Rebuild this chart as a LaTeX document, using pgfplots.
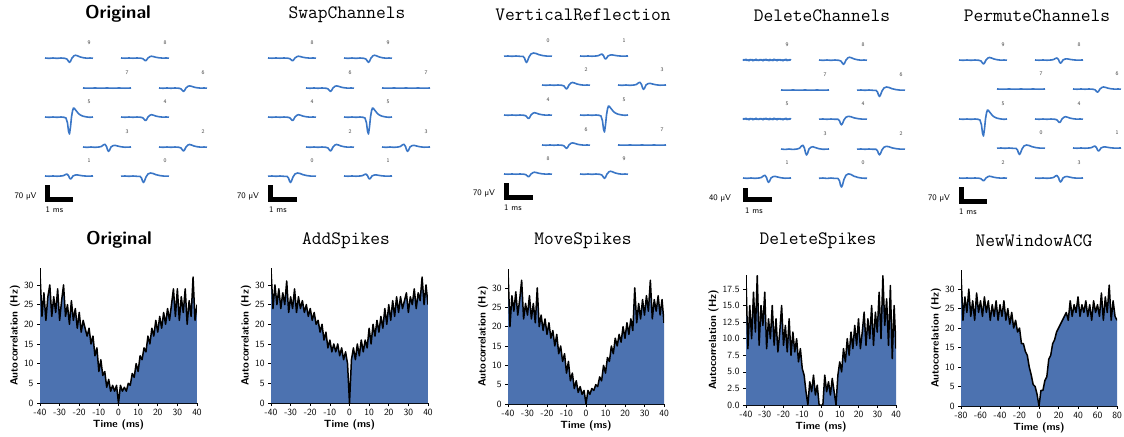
\documentclass[border=0pt]{standalone}
\usepackage{fontspec}
\usepackage{pgfplots}
\pgfplotsset{compat=1.18}
\usepackage{pgfplotstable}
\definecolor{acg}{HTML}{4C72B0}
\definecolor{wvc}{HTML}{3A76C6}
\tikzset{chl/.style={font=\fontsize{5.5}{6}\selectfont\sffamily, text=black!75},
  sbl/.style={font=\fontsize{8.5}{9}\selectfont\sffamily}}

% ---------- waveform templates (x in px, y in px, positive = down) ----------
\pgfplotstableread{
x y
0 0
4 0.3
8 0
12 0.3
16 0
19 0.3
21 1
22.5 6
23.5 14
24.5 17
25.5 10
26.5 0
27.5 -6
28.5 -9
29.5 -8.5
31 -6.5
33 -4
35 -2.2
38 -0.8
42 0
45 0.3
48 0
}\Tbig
\pgfplotstableread{
x y
0 0.2
4 0
8 0.3
12 0
16 0.3
19 0.3
20.5 2
21.5 5
22.5 6.5
23.5 5
25 1
27 -2
29.5 -3
32 -2.5
35 -1.3
39 -0.4
43 0.1
48 0.2
}\Tmed
\pgfplotstableread{
x y
0 0
4 0.3
8 0
12 0.3
16 0
20 0.3
22 1
23.5 3
24.5 4
25.5 3
27 0
29 -2
30.5 -2.5
32.5 -2
35 -1
38 -0.3
42 0.2
45 0
48 0.2
}\Tsmall
\pgfplotstableread{
x y
0 0
4 0.3
8 0
12 0.3
16 0
18.5 -0.5
20.5 -2
22 -2.5
23.5 -0.5
24.5 2.5
25.5 4
26.5 3
28 0
30 -1.2
32 -1.5
35 -0.8
38 -0.2
42 0.2
48 0
}\Tbump
\pgfplotstableread{
x y
0 0
6 0.2
12 0
18 0.2
24 0
30 0.2
36 0
42 0.2
48 0
}\Tflat
\pgfplotstableread{
x y
0 0.6
1 -0.5
2 0.3
3 -0.7
4 0.5
5 -0.2
6 0.8
7 -0.6
8 0.1
9 -0.5
10 0.7
11 -0.3
12 0.4
13 -0.8
14 0.5
15 -0.1
16 0.6
17 -0.6
18 0.2
19 -0.4
20 0.8
21 -0.5
22 0.3
23 -0.7
24 0.4
25 -0.2
26 0.7
27 -0.6
28 0.5
29 -0.3
30 0.6
31 -0.8
32 0.2
33 -0.4
34 0.7
35 -0.5
36 0.3
37 -0.6
38 0.5
39 -0.2
40 0.8
41 -0.4
42 0.3
43 -0.7
44 0.6
45 -0.3
46 0.4
47 -0.5
48 0.2
}\Tnoise

% ---------- ACG data ----------
\pgfplotstableread{
t v
-40 33
-39 22
-38 28
-37 21
-36 27
-35 30
-34 22
-33 27
-32 23
-31 29
-30 21
-29 26
-28 30
-27 22
-26 25
-25 20
-24 26
-23 21
-22 24
-21 19
-20 23
-19 18
-18 21
-17 19
-16 17
-15 19
-14 15
-13 17
-12 12
-11 14
-10 8
-9 11
-8 7
-7 8
-6 4
-5 6
-4 3
-3 4.5
-2 3
-1 4.5
0 0
1 4.5
2 3
3 4
4 3
5 5
6 4.5
7 7.5
8 6.5
9 10
10 8
11 12
12 11
13 14
14 13
15 17
16 15
17 19
18 17
19 21
20 18
21 22
22 19
23 23
24 20
25 24
26 21
27 25
28 29
29 22
30 29
31 21
32 27
33 23
34 29
35 20
36 26
37 22
38 32
39 21
40 25
}\Aorig
\pgfplotstableread{
t v
-40 34
-39 24
-38 30
-37 25
-36 29
-35 24
-34 28
-33 25
-32 31
-31 23
-30 27
-29 24
-28 29
-27 23
-26 27
-25 24
-24 26
-23 23
-22 25
-21 22
-20 24
-19 21
-18 23
-17 20
-16 21
-15 18
-14 20
-13 16
-12 18
-11 14
-10 16
-9 13
-8 15
-7 13
-6 15
-5 12
-4 14
-3 11
-2 13
-1 10
0 0
1 11
2 14
3 11
4 15
5 12
6 16
7 13
8 16
9 14
10 19
11 15
12 20
13 17
14 21
15 18
16 22
17 19
18 24
19 20
20 25
21 21
22 26
23 22
24 27
25 23
26 27
27 24
28 26
29 28
30 23
31 27
32 25
33 29
34 24
35 28
36 26
37 32
38 25
39 30
40 25
}\Aadd
\pgfplotstableread{
t v
-40 34.5
-39 20
-38 28
-37 24
-36 29
-35 23
-34 27
-33 32
-32 22
-31 26
-30 23
-29 28
-28 22
-27 26
-26 21
-25 30
-24 20
-23 23
-22 19
-21 22
-20 18
-19 21
-18 17
-17 19
-16 15
-15 18
-14 13
-13 15
-12 11
-11 13
-10 8
-9 11
-8 6
-7 8
-6 4
-5 6
-4 3
-3 4.5
-2 2.5
-1 3.5
0 0
1 3.5
2 2.5
3 4
4 3.5
5 5
6 4.5
7 7
8 6
9 10
10 8
11 12
12 11
13 15
14 13
15 17
16 15
17 18
18 16
19 20
20 17
21 21
22 18
23 22
24 19
25 30
26 21
27 26
28 22
29 27
30 23
31 28
32 24
33 32
34 22
35 27
36 24
37 28
38 23
39 27
40 21
}\Amove
\pgfplotstableread{
t v
-40 19
-39 8.5
-38 15
-37 10
-36 17
-35 11
-34 19.5
-33 9
-32 15
-31 12
-30 17
-29 8.5
-28 13
-27 10
-26 15
-25 9
-24 13
-23 8
-22 11
-21 15
-20 9
-19 12
-18 8
-17 13
-16 7.5
-15 11
-14 8
-13 10
-12 6.5
-11 8.5
-10 5.5
-9 4.5
-8 2
-7 0
-6 3.5
-5 2
-4 4.5
-3 1.5
-2 3
-1 0
0 0
1 0
2 4.5
3 2
4 3.5
5 1.5
6 4
7 2
8 0
9 4.5
10 6.5
11 5
12 8.5
13 6.5
14 10
15 7.5
16 11
17 8.5
18 12
19 9
20 13
21 8.5
22 11
23 14
24 9
25 13
26 10
27 15
28 9
29 14
30 11
31 17
32 10
33 19.5
34 12
35 16
36 9
37 18
38 7
39 15
40 8.5
}\Adel
\pgfplotstableread{
t v
-80 34
-78 22
-76 28
-74 24
-72 30
-70 23
-68 27
-66 22
-64 29
-62 24
-60 27
-58 23
-56 28
-54 24
-52 27
-50 22
-48 26
-46 23
-44 27
-42 22
-40 26
-38 23
-36 27
-34 22
-32 25
-30 21
-28 24
-26 20
-24 22
-22 19
-20 20
-18 16
-16 16
-14 14
-12 13
-10 10
-8 8
-6 5.5
-4 5
-2 3
0 0
2 4
4 4
6 6.5
8 7.5
10 12
12 13
14 16
16 17
18 19
20 20
22 21
24 22
26 23
28 24
30 22
32 27
34 23
36 26
38 24
40 28
42 23
44 26
46 24
48 27
50 23
52 26
54 22
56 27
58 24
60 26
62 23
64 29
66 22
68 28
70 24
72 31
74 22
76 27
78 23
80 22
}\Anew

\newcommand{\wave}[5]{%
  \addplot[wvc, line width=1.6bp, line join=round] table[x expr=\thisrow{x}+#2, y expr=#4*\thisrow{y}+#3]{#1};
  \node[chl] at (axis cs:{#2+44},{#3-15}) {#5};
}
\newcommand{\sbar}[4]{% x, top, bottomcenter, right
  \addplot[black, line width=5bp, line join=miter] coordinates {(#1,#2) (#1,#3) (#4,#3)};
}

\pgfplotsset{
  acgaxis/.style={scale only axis, anchor=south west, ymin=0,
    axis x line*=bottom, axis y line*=left, tick align=outside,
    major tick length=3bp, tick style={black, line width=0.6bp},
    axis line style={black, line width=0.8bp},
    ticklabel style={font=\fontsize{9.5}{10}\selectfont\sffamily},
    /pgf/number format/assume math mode=true,
    label style={font=\fontsize{10.5}{12}\selectfont\sffamily\bfseries},
    xlabel={Time (ms)}, ylabel={Autocorrelation (Hz)},
    xlabel style={yshift=3bp}, ylabel style={yshift=-3bp},
    xtick={-40,-30,...,40}, ytick={0,5,...,30}},
  fillp/.style={fill=acg, draw=none},
  linep/.style={black, line width=1.5bp, line join=round},
}

\begin{document}
\begin{tikzpicture}
\useasboundingbox (0,0) rectangle (1124bp,-437bp);

% ================= top row: waveforms =================
\begin{axis}[at={(0,0)}, anchor=north west, scale only axis, width=1124bp, height=220bp,
  xmin=0, xmax=1124, ymin=0, ymax=220, y dir=reverse, hide axis, clip=false]
% titles
\node[font=\fontsize{18.5}{20}\selectfont\sffamily\bfseries] at (axis cs:118,14) {Original};
\node[font=\fontsize{19}{20}\selectfont\ttfamily] at (axis cs:347,15) {SwapChannels};
\node[font=\fontsize{19}{20}\selectfont\ttfamily] at (axis cs:583,15) {VerticalReflection};
\node[font=\fontsize{19}{20}\selectfont\ttfamily] at (axis cs:822,16) {DeleteChannels};
\node[font=\fontsize{19}{20}\selectfont\ttfamily] at (axis cs:1037,16) {PermuteChannels};

% Panel 1: Original (A=45,B=83,C=121,D=159)
\wave{\Tsmall}{45}{58}{1.1}{9}
\wave{\Tsmall}{121}{58}{0.7}{8}
\wave{\Tflat}{83}{88}{1}{7}
\wave{\Tsmall}{159}{88}{0.85}{6}
\wave{\Tbig}{45}{117}{1}{5}
\wave{\Tsmall}{121}{117}{0.9}{4}
\wave{\Tbump}{83}{147}{1.1}{3}
\wave{\Tsmall}{159}{147}{1.0}{2}
\wave{\Tbump}{45}{176}{0.75}{1}
\wave{\Tmed}{121}{176}{1}{0}
\sbar{47.5}{185}{199.5}{73}
\node[sbl] at (axis cs:25.5,196) {70 µV};
\node[sbl] at (axis cs:54.5,209.5) {1 ms};

% Panel 2: SwapChannels (A=268,B=306,C=344,D=382)
\wave{\Tsmall}{268}{58}{0.7}{8}
\wave{\Tsmall}{344}{58}{1.1}{9}
\wave{\Tsmall}{306}{88}{0.85}{6}
\wave{\Tflat}{382}{88}{1}{7}
\wave{\Tsmall}{268}{117}{0.9}{4}
\wave{\Tbig}{344}{117}{1}{5}
\wave{\Tsmall}{306}{147}{1.0}{2}
\wave{\Tbump}{382}{147}{1.1}{3}
\wave{\Tmed}{268}{176}{1}{0}
\wave{\Tbump}{344}{176}{0.75}{1}
\sbar{270.5}{185}{199.5}{297}
\node[sbl] at (axis cs:248,196) {70 µV};
\node[sbl] at (axis cs:278,209.5) {1 ms};

% Panel 3: VerticalReflection (A=504,B=542,C=580,D=618)
\wave{\Tmed}{504}{56}{1}{0}
\wave{\Tbump}{580}{56}{0.75}{1}
\wave{\Tsmall}{542}{85}{1.0}{2}
\wave{\Tbump}{618}{85}{1.1}{3}
\wave{\Tsmall}{504}{115}{0.9}{4}
\wave{\Tbig}{580}{115}{1}{5}
\wave{\Tsmall}{542}{145}{0.85}{6}
\wave{\Tflat}{618}{145}{1}{7}
\wave{\Tsmall}{504}{174}{0.7}{8}
\wave{\Tsmall}{580}{174}{1.1}{9}
\sbar{506.5}{183}{197.5}{533}
\node[sbl] at (axis cs:484,193) {70 µV};
\node[sbl] at (axis cs:513,207.5) {1 ms};

% Panel 4: DeleteChannels (A=743,B=781,C=819,D=857)
\wave{\Tnoise}{743}{60}{1}{9}
\wave{\Tsmall}{819}{60}{1.1}{8}
\wave{\Tflat}{781}{90}{1}{7}
\wave{\Tmed}{857}{90}{1.0}{6}
\wave{\Tnoise}{743}{119}{1}{5}
\wave{\Tmed}{819}{119}{0.9}{4}
\wave{\Tbump}{781}{149}{1.5}{3}
\wave{\Tmed}{857}{149}{0.9}{2}
\wave{\Tbump}{743}{178}{1.1}{1}
\wave{\Tmed}{819}{178}{1.4}{0}
\sbar{745.5}{188}{199.5}{772}
\node[sbl] at (axis cs:720,198) {40 µV};
\node[sbl] at (axis cs:754,210.5) {1 ms};

% Panel 5: PermuteChannels (A=959,B=997,C=1035,D=1073)
\wave{\Tsmall}{959}{60}{1.0}{9}
\wave{\Tbump}{1035}{60}{0.8}{8}
\wave{\Tflat}{997}{89}{1}{7}
\wave{\Tsmall}{1073}{89}{0.8}{6}
\wave{\Tbig}{959}{119}{1}{5}
\wave{\Tsmall}{1035}{119}{0.9}{4}
\wave{\Tmed}{997}{148}{1.0}{0}
\wave{\Tbump}{1073}{148}{0.75}{1}
\wave{\Tsmall}{959}{178}{0.7}{2}
\wave{\Tbump}{1035}{178}{1.0}{3}
\sbar{961.5}{187}{201.5}{987}
\node[sbl] at (axis cs:939,198) {70 µV};
\node[sbl] at (axis cs:968,211.5) {1 ms};

% bottom-row titles
\node[font=\fontsize{18.5}{20}\selectfont\sffamily\bfseries] at (axis cs:119,240) {Original};
\node[font=\fontsize{19}{20}\selectfont\ttfamily] at (axis cs:346,241) {AddSpikes};
\node[font=\fontsize{19}{20}\selectfont\ttfamily] at (axis cs:583,241) {MoveSpikes};
\node[font=\fontsize{19}{20}\selectfont\ttfamily] at (axis cs:818,241) {DeleteSpikes};
\node[font=\fontsize{19}{20}\selectfont\ttfamily] at (axis cs:1034,241) {NewWindowACG};
\end{axis}

% ================= bottom row: ACGs =================
\begin{axis}[acgaxis, at={(40bp,-403bp)}, width=157bp, height=135bp, xmin=-40, xmax=40, ymax=34.3]
\addplot[fillp] table[x=t,y=v]{\Aorig} \closedcycle;
\addplot[linep] table[x=t,y=v]{\Aorig};
\end{axis}

\begin{axis}[acgaxis, at={(271bp,-403bp)}, width=157bp, height=135bp, xmin=-40, xmax=40, ymax=34.3]
\addplot[fillp] table[x=t,y=v]{\Aadd} \closedcycle;
\addplot[linep] table[x=t,y=v]{\Aadd};
\end{axis}

\begin{axis}[acgaxis, at={(508bp,-404bp)}, width=156bp, height=135bp, xmin=-40, xmax=40, ymax=34.9]
\addplot[fillp] table[x=t,y=v]{\Amove} \closedcycle;
\addplot[linep] table[x=t,y=v]{\Amove};
\end{axis}

\begin{axis}[acgaxis, at={(746bp,-405bp)}, width=150bp, height=130bp, xmin=-40, xmax=40, ymax=19.6,
  ytick={0,2.5,...,17.5}, yticklabel style={/pgf/number format/.cd, fixed, fixed zerofill, precision=1}]
\addplot[fillp] table[x=t,y=v]{\Adel} \closedcycle;
\addplot[linep] table[x=t,y=v]{\Adel};
\end{axis}

\begin{axis}[acgaxis, at={(961bp,-406bp)}, width=156bp, height=136bp, xmin=-80, xmax=80, ymax=34.9,
  xtick={-80,-60,...,80}]
\addplot[fillp] table[x=t,y=v]{\Anew} \closedcycle;
\addplot[linep] table[x=t,y=v]{\Anew};
\end{axis}
\end{tikzpicture}
\end{document}
